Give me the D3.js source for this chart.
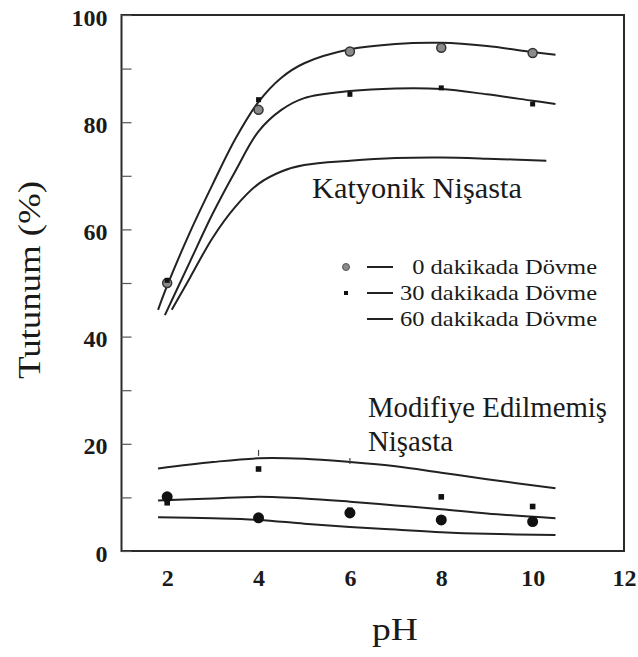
<!DOCTYPE html>
<html>
<head>
<meta charset="utf-8">
<script src="https://cdn.jsdelivr.net/npm/d3@7"></script>
<style>
  body { margin: 0; background: #fff; }
  svg { display: block; }
</style>
</head>
<body>
<svg id="chart" width="638" height="657"></svg>
<script>
//data
var phTicks = [2, 4, 6, 8, 10, 12];
var yTickValues = [0, 10, 20, 30, 40, 50, 60, 70, 80, 90, 100];
var yTickLabels = ["0", "", "20", "", "40", "", "60", "", "80", "", "100"];
var legendLabels = ["\u20070 dakikada Dövme", "30 dakikada Dövme", "60 dakikada Dövme"];

// cationic starch, fitted curves [pH, %]
var katCurve0 = [[1.8,45],[2,49.5],[2.5,59.5],[3,68.5],[3.5,77],[4,83.8],[4.5,88.3],[5,91],[6,93.6],[7,94.6],[8,94.8],[9,94.2],[10,93.1],[10.5,92.6]];
var katCurve30 = [[1.95,44],[2.5,54],[3,63],[3.5,71],[4,78.3],[4.5,82.3],[5,84.5],[6,85.8],[7,86.3],[8,86.2],[9,85.2],[10,84],[10.5,83.4]];
var katCurve60 = [[2.1,45],[2.5,51],[3,58.5],[3.5,64.3],[4,68.5],[4.5,70.8],[5,72],[6,72.8],[7,73.3],[8,73.4],[9,73.2],[10.3,72.8]];

// cationic starch, measured points
var katPH = [2, 4, 6, 8, 10];
var kat0 = [50, 82.3, 93.2, 93.9, 92.9];
var kat30 = [50.5, 84.2, 85.2, 86.4, 83.4];

// unmodified starch, fitted curves
var modCurveTop = [[1.8,15.4],[3,16.6],[4,17.3],[5,17.2],[6,16.6],[7,15.8],[8,14.6],[9,13.4],[10.5,11.7]];
var modCurveMid = [[1.8,9.4],[3,9.8],[4,10.1],[5,9.8],[6,9.2],[7,8.5],[8,7.8],[9,7],[10.5,6.1]];
var modCurveLow = [[1.8,6.3],[3,6.1],[4,5.8],[5,5.1],[6,4.5],[7,4],[8,3.5],[9,3.2],[10.5,3.0]];

// unmodified starch, measured points
var modPH = [2, 4, 6, 8, 10];
var mod0 = [10.1, 6.2, 7.1, 5.8, 5.5];
var mod30 = [9.0, 15.3, 7.6, 10.1, 8.3];
var mod60PH = [4, 6];
var mod60 = [18.3, 16.8];

var serif = '"Liberation Serif", "Times New Roman", Times, "DejaVu Serif", serif';

//layout
var svg = d3.select("#chart");
var x = d3.scaleLinear().domain([1, 12]).range([121.5, 624]);
var y = d3.scaleLinear().domain([0, 100]).range([551, 15]);

var line = d3.line()
	.x(function(d){ return x(d[0]); })
	.y(function(d){ return y(d[1]); })
	.curve(d3.curveCatmullRom.alpha(0.5));

//frame
svg.append("rect")
	.attr("x", x(1)).attr("y", y(100))
	.attr("width", x(12) - x(1)).attr("height", y(0) - y(100))
	.attr("fill", "none").attr("stroke", "#2a2a2a").attr("stroke-width", 2);

//y axis, ticks pointing inward
var yAxis = svg.append("g")
	.attr("transform", "translate(" + x(1) + ",0)")
	.call(d3.axisLeft(y)
		.tickValues(yTickValues)
		.tickSize(-10)
		.tickPadding(14)
		.tickFormat(function(d, i){ return yTickLabels[i]; }));
yAxis.select(".domain").remove();
yAxis.selectAll("line").attr("stroke", "#555").attr("stroke-width", 1.2);
yAxis.selectAll("text")
	.style("font-family", serif)
	.style("font-weight", "bold")
	.style("font-size", "24px")
	.attr("dy", "0.42em")
	.attr("fill", "#1a1a1a");

//x axis, labels only
var xAxis = svg.append("g")
	.attr("transform", "translate(0," + y(0) + ")")
	.call(d3.axisBottom(x).tickValues(phTicks).tickSize(0).tickPadding(18));
xAxis.select(".domain").remove();
xAxis.selectAll("text")
	.style("font-family", serif)
	.style("font-weight", "bold")
	.style("font-size", "24px")
	.attr("fill", "#1a1a1a");

//curves
[katCurve0, katCurve30, katCurve60, modCurveTop, modCurveMid, modCurveLow].forEach(function(c){
	svg.append("path")
		.datum(c)
		.attr("d", line)
		.attr("fill", "none")
		.attr("stroke", "#222")
		.attr("stroke-width", 2);
});

//markers: cationic
svg.selectAll(".k0").data(katPH).enter().append("circle")
	.attr("cx", function(d){ return x(d); })
	.attr("cy", function(d, i){ return y(kat0[i]); })
	.attr("r", 4.5)
	.attr("fill", "#8a8a8a").attr("stroke", "#333").attr("stroke-width", 1.5);
svg.selectAll(".k30").data(katPH).enter().append("rect")
	.attr("x", function(d){ return x(d) - 2.5; })
	.attr("y", function(d, i){ return y(kat30[i]) - 2.5; })
	.attr("width", 5).attr("height", 5)
	.attr("fill", "#111");

//markers: unmodified
svg.selectAll(".m0").data(modPH).enter().append("circle")
	.attr("cx", function(d){ return x(d); })
	.attr("cy", function(d, i){ return y(mod0[i]); })
	.attr("r", 5.5)
	.attr("fill", "#111");
svg.selectAll(".m30").data(modPH).enter().append("rect")
	.attr("x", function(d){ return x(d) - 2.8; })
	.attr("y", function(d, i){ return y(mod30[i]) - 2.8; })
	.attr("width", 5.6).attr("height", 5.6)
	.attr("fill", "#111");
svg.selectAll(".m60").data(mod60PH).enter().append("line")
	.attr("x1", function(d){ return x(d); })
	.attr("x2", function(d){ return x(d); })
	.attr("y1", function(d, i){ return y(mod60[i]) - 3; })
	.attr("y2", function(d, i){ return y(mod60[i]) + 3; })
	.attr("stroke", "#444").attr("stroke-width", 1.2);

//annotations
function label(px, py, size, len, str){
	return svg.append("text")
		.attr("x", px).attr("y", py)
		.style("font-family", serif)
		.style("font-size", size + "px")
		.attr("fill", "#1a1a1a")
		.attr("textLength", len).attr("lengthAdjust", "spacingAndGlyphs")
		.text(str);
}
label(312, 198, 30, 210, "Katyonik Nişasta");
label(368, 417, 29, 239, "Modifiye Edilmemiş");
label(368, 451, 29, 85, "Nişasta");

//legend
var legend = svg.append("g").attr("transform", "translate(0,267)");
legendLabels.forEach(function(lbl, i){
	var g = legend.append("g").attr("transform", "translate(0," + (i * 26) + ")");
	g.append("line")
		.attr("x1", 367).attr("x2", 393)
		.attr("y1", 0).attr("y2", 0)
		.attr("stroke", "#222").attr("stroke-width", 2);
	g.append("text")
		.attr("x", 400).attr("y", 7)
		.style("font-family", serif)
		.style("font-size", "21px")
		.attr("fill", "#1a1a1a")
		.attr("textLength", 197).attr("lengthAdjust", "spacingAndGlyphs")
		.text(lbl);
});
legend.append("circle")
	.attr("cx", 346).attr("cy", 0).attr("r", 3.5)
	.attr("fill", "#8a8a8a").attr("stroke", "#555");
legend.append("rect")
	.attr("x", 344).attr("y", 26 - 2).attr("width", 4).attr("height", 4)
	.attr("fill", "#111");

//axis titles
svg.append("text")
	.attr("transform", "translate(40,280) rotate(-90)")
	.attr("text-anchor", "middle")
	.style("font-family", serif)
	.style("font-size", "31px")
	.attr("fill", "#1a1a1a")
	.attr("textLength", 198).attr("lengthAdjust", "spacingAndGlyphs")
	.text("Tutunum (%)");

svg.append("text")
	.attr("x", 395).attr("y", 640)
	.attr("text-anchor", "middle")
	.style("font-family", serif)
	.style("font-size", "32px")
	.attr("fill", "#1a1a1a")
	.attr("textLength", 46).attr("lengthAdjust", "spacingAndGlyphs")
	.text("pH");
</script>
</body>
</html>
